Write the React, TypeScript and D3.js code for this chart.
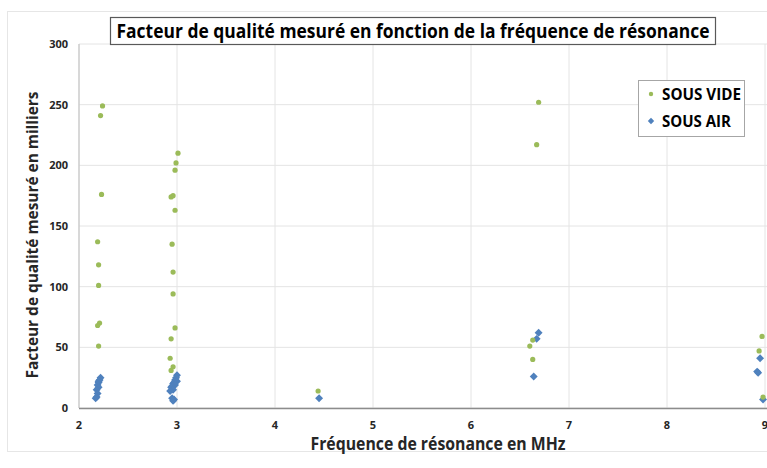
import React from "react";
import * as d3 from "d3";

const title = "Facteur de qualité mesuré en fonction de la fréquence de résonance";
const xTitle = "Fréquence de résonance en MHz";
const yTitle = "Facteur de qualité mesuré en milliers";
const xTicks = [2, 3, 4, 5, 6, 7, 8, 9];
const yTicks = [0, 50, 100, 150, 200, 250, 300];

const videX = [2.24, 2.22, 2.23, 2.19, 2.2, 2.2, 2.21, 2.19, 2.2,
  3.01, 2.99, 2.98, 2.94, 2.96, 2.98, 2.95, 2.96, 2.96, 2.98, 2.94, 2.93, 2.96, 2.94,
  4.44,
  6.69, 6.67, 6.63, 6.6, 6.63,
  8.97, 8.94, 8.98];
const videY = [249, 241, 176, 137, 118, 101, 70, 68, 51,
  210, 202, 196, 174, 175, 163, 135, 112, 94, 66, 57, 41, 34, 31,
  14,
  252, 217, 56, 51, 40,
  59, 47, 9];

const airX = [2.22, 2.21, 2.2, 2.19, 2.2, 2.18, 2.19, 2.18, 2.17, 2.2,
  3.0, 2.99, 2.98, 3.0, 2.97, 2.96, 2.98, 2.95, 2.94, 2.96, 2.93, 2.95, 2.97, 2.96,
  4.45,
  6.69, 6.67, 6.64,
  8.95, 8.92, 8.93, 8.98];
const airY = [25, 23, 21, 19, 17, 15, 12, 9, 8, 22,
  27, 25, 23, 22, 21, 20, 19, 18, 17, 15, 14, 8, 7, 6,
  8,
  62, 57, 26,
  41, 30, 29, 7];

const GREEN = "#9BBB59";
const BLUE = "#4F81BD";
const FONT = "'Liberation Sans Narrow', 'Open Sans', sans-serif";

export default function App() {
  const W = 767, H = 468;
  const x = d3.scaleLinear().domain([2, 9]).range([79, 765]);
  const y = d3.scaleLinear().domain([0, 300]).range([408, 44]);
  const diamond = d3.symbol().type(d3.symbolDiamond2).size(40)();
  const smallDiamond = d3.symbol().type(d3.symbolDiamond2).size(26)();

  return (
    <svg width={W} height={H} style={{ position: "absolute", left: 0, top: 0, background: "#fff" }} fontFamily={FONT}>
      <rect x={7.5} y={11.5} width={800} height={440} fill="#fff" stroke="#e6e6e6" />
      {yTicks.map(t => (
        <line key={"gy" + t} x1={79} x2={767} y1={y(t)} y2={y(t)} stroke="#e4e4e4" strokeWidth={1} />
      ))}
      {xTicks.map(t => (
        <line key={"gx" + t} x1={x(t)} x2={x(t)} y1={44} y2={408} stroke="#e4e4e4" strokeWidth={1} />
      ))}
      <line x1={79} x2={79} y1={44} y2={408} stroke="#bfbfbf" />
      <line x1={79} x2={767} y1={408.5} y2={408.5} stroke="#8c8c8c" strokeWidth={1.5} />
      {yTicks.map(t => (
        <text key={"ty" + t} x={68} y={y(t) + 4} textAnchor="end" fontSize={11} fontWeight="bold" fill="#262626">{t}</text>
      ))}
      {xTicks.map(t => (
        <text key={"tx" + t} x={x(t)} y={429} textAnchor="middle" fontSize={11} fontWeight="bold" fill="#262626">{t}</text>
      ))}
      {airX.map((v, i) => (
        <path key={"a" + i} d={diamond} transform={`translate(${x(v)},${y(airY[i])})`} fill={BLUE} />
      ))}
      {videX.map((v, i) => (
        <circle key={"v" + i} cx={x(v)} cy={y(videY[i])} r={2.6} fill={GREEN} />
      ))}
      <rect x={110.5} y={17.5} width={605} height={27} fill="#fff" stroke="#595959" strokeWidth={1.2} />
      <text x={413} y={37.5} textAnchor="middle" fontSize={19} fontWeight="bold" fill="#000" textLength={593} lengthAdjust="spacingAndGlyphs">{title}</text>
      <text x={438} y={450} textAnchor="middle" fontSize={17} fontWeight="bold" fill="#262626" textLength={255} lengthAdjust="spacingAndGlyphs">{xTitle}</text>
      <text transform="translate(38,235) rotate(-90)" textAnchor="middle" fontSize={16} fontWeight="bold" fill="#262626" textLength={287} lengthAdjust="spacingAndGlyphs">{yTitle}</text>
      <rect x={638.5} y={80.5} width={106} height={56} fill="#fff" stroke="#a6a6a6" />
      <circle cx={651} cy={94} r={2.2} fill={GREEN} />
      <text x={662} y={100} fontSize={16} fontWeight="bold" fill="#000" textLength={79} lengthAdjust="spacingAndGlyphs">SOUS VIDE</text>
      <path d={smallDiamond} transform="translate(651,121)" fill={BLUE} />
      <text x={662} y={127} fontSize={16} fontWeight="bold" fill="#000" textLength={69} lengthAdjust="spacingAndGlyphs">SOUS AIR</text>
    </svg>
  );
}
